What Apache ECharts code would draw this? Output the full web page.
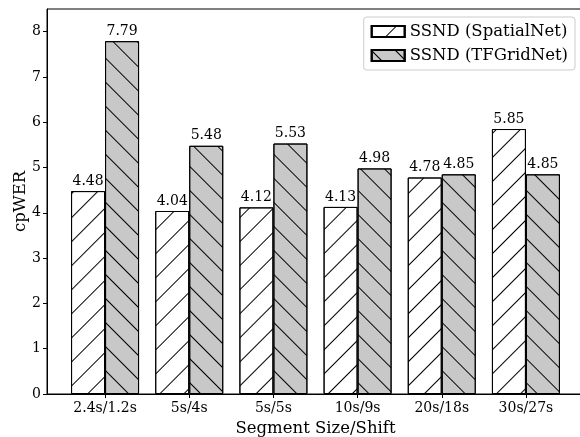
<!DOCTYPE html>
<html lang="en">
<head>
    <meta charset="utf-8">
    <script src="https://cdn.jsdelivr.net/npm/echarts@6/dist/echarts.min.js"></script>
    <title>cpwer_segment</title>
</head>
<body>
<style>
    html, body, #main {
        width: 580px;
        height: 437px;
        margin: 0;
        background: #fff;
    }
</style>
<div id='main'></div>
<script>
    // segment size / shift settings
    var categories = ['2.4s/1.2s', '5s/4s', '5s/5s', '10s/9s', '20s/18s', '30s/27s'];
    var spatialNet = [4.48, 4.04, 4.12, 4.13, 4.78, 5.85];
    var tfGridNet = [7.79, 5.48, 5.53, 4.98, 4.85, 4.85];
    var yTicks = [0, 1, 2, 3, 4, 5, 6, 7, 8];

    var font = 'DejaVu Serif';
    var idx = categories.map(function (c, i) { return i; });

    function hatch(rot) {
        return {
            symbol: 'rect',
            symbolSize: 1,
            color: '#000',
            dashArrayX: [1, 0],
            dashArrayY: [1, 16],
            rotation: rot
        };
    }

    function barSeries(name, vals, fill, rot) {
        return {
            name: name,
            type: 'bar',
            barWidth: 34,
            barGap: '0%',
            data: vals.map(function (v, i) { return [i, v]; }),
            itemStyle: {
                color: fill,
                borderColor: '#000',
                borderWidth: 1,
                decal: hatch(rot)
            },
            label: {
                show: true,
                position: 'top',
                distance: 3,
                color: '#000',
                fontFamily: font,
                fontSize: 14,
                formatter: function (p) { return p.value[1].toFixed(2); }
            }
        };
    }

    var chart = echarts.init(document.getElementById('main'));
    var option = {
        animation: false,
        backgroundColor: '#fff',
        grid: {
            left: 47, right: -4, top: 9, bottom: 43,
            outerBoundsMode: 'none',
            show: true, borderColor: '#000', borderWidth: 1
        },
        legend: {
            right: 5, top: 17,
            orient: 'vertical',
            itemWidth: 33, itemHeight: 11, itemGap: 7,
            padding: [6, 7, 6, 7],
            borderColor: '#ccc', borderWidth: 1, borderRadius: 3,
            backgroundColor: '#fff',
            icon: 'rect',
            textStyle: { fontFamily: font, fontSize: 16.5, color: '#000' }
        },
        xAxis: {
            type: 'value',
            min: -0.69, max: 5.69,
            name: 'Segment Size/Shift',
            nameLocation: 'middle',
            nameGap: 26,
            nameMoveOverlap: false,
            nameTextStyle: { fontFamily: font, fontSize: 16.5, color: '#000' },
            axisLine: { onZero: false, lineStyle: { color: '#000' } },
            axisTick: { length: 4, customValues: idx, lineStyle: { color: '#000' } },
            axisLabel: {
                customValues: idx,
                margin: 7,
                fontFamily: font, fontSize: 14, color: '#000',
                formatter: function (v) { return categories[Math.round(v)]; }
            },
            splitLine: { show: false }
        },
        yAxis: {
            type: 'value',
            min: 0, max: 8.5, interval: 1,
            name: 'cpWER',
            nameLocation: 'middle',
            nameGap: 18,
            nameMoveOverlap: false,
            nameTextStyle: { fontFamily: font, fontSize: 16.5, color: '#000' },
            axisLine: { show: true, onZero: false, lineStyle: { color: '#000' } },
            axisTick: { show: true, length: 4, customValues: yTicks, lineStyle: { color: '#000' } },
            axisLabel: {
                customValues: yTicks,
                margin: 6,
                fontFamily: font, fontSize: 14, color: '#000'
            },
            splitLine: { show: false }
        },
        series: [
            barSeries('SSND (SpatialNet)', spatialNet, '#ffffff', -Math.PI / 4),
            barSeries('SSND (TFGridNet)', tfGridNet, '#c8c8c8', Math.PI / 4)
        ]
    };
    chart.setOption(option);
</script>
</body>
</html>
